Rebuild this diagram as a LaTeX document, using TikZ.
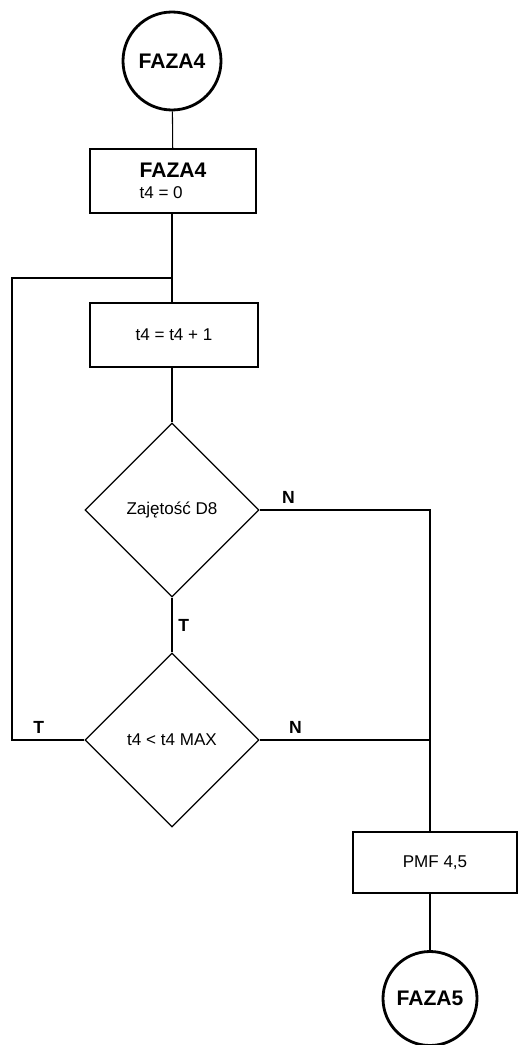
\documentclass[tikz,border=0pt]{standalone}
\usepackage{fontspec}
\setmainfont{Liberation Sans}
\usetikzlibrary{shapes.geometric}

\begin{document}
\begin{tikzpicture}[
  term/.style={circle, draw, line width=1.6pt, font=\fontsize{12}{14}\selectfont\bfseries, inner sep=0pt},
  box/.style={rectangle, draw, line width=1.1pt, font=\fontsize{9.7}{12}\selectfont, inner sep=3pt},
  cond/.style={diamond, draw, line width=0.7pt, font=\fontsize{9.7}{12}\selectfont, inner sep=0pt, minimum width=3.48cm, minimum height=3.48cm},
  line/.style={line width=0.6pt},
  lbl/.style={font=\fontsize{10}{12}\selectfont\bfseries},
]
\useasboundingbox (0, 0) rectangle (10.38, -20.9);

% Start
\node[term, minimum size=1.96cm] (faza4) at (3.44, -1.22) {FAZA4};

% Init
\node[box, minimum width=3.32cm, minimum height=1.28cm, align=left] (init) at (3.46, -3.62) {{\fontsize{12}{13}\selectfont\bfseries FAZA4}\\[0pt]t4 = 0};

% Increment
\node[box, minimum width=3.36cm, minimum height=1.28cm] (inc) at (3.48, -6.7) {t4 = t4 + 1};

% Conditions
\node[cond] (busy) at (3.44, -10.2) {Zajętość D8};
\node[cond] (limit) at (3.44, -14.8) {t4 < t4 MAX};

% PMF
\node[box, minimum width=3.28cm, minimum height=1.22cm] (pmf) at (8.7, -17.25) {PMF 4,5};

% End
\node[term, minimum size=1.88cm] (faza5) at (8.6, -19.97) {FAZA5};

\coordinate (loop) at (3.44, -5.56);
\coordinate (back) at (0.24, -14.8);
\coordinate (right) at (8.6, -14.8);

\draw[line] (faza4) -- (init);
\draw[line] (init.south -| faza4) -- (inc.north -| faza4);
\draw[line] (inc.south -| faza4) -- (busy);
\draw[line] (busy) -- (limit) node[midway, right, lbl] {T};
\draw[line] (busy.east) -| node[pos=0.085, above, lbl] {N} (right);
\draw[line] (limit.east) -- node[pos=0.21, above, lbl] {N} (right);
\draw[line] (limit.west) -- node[pos=0.63, above, lbl] {T} (back) |- (loop);
\draw[line] (right) -- (right |- pmf.north);
\draw[line] (faza5) -- (faza5 |- pmf.south);
\end{tikzpicture}
\end{document}
